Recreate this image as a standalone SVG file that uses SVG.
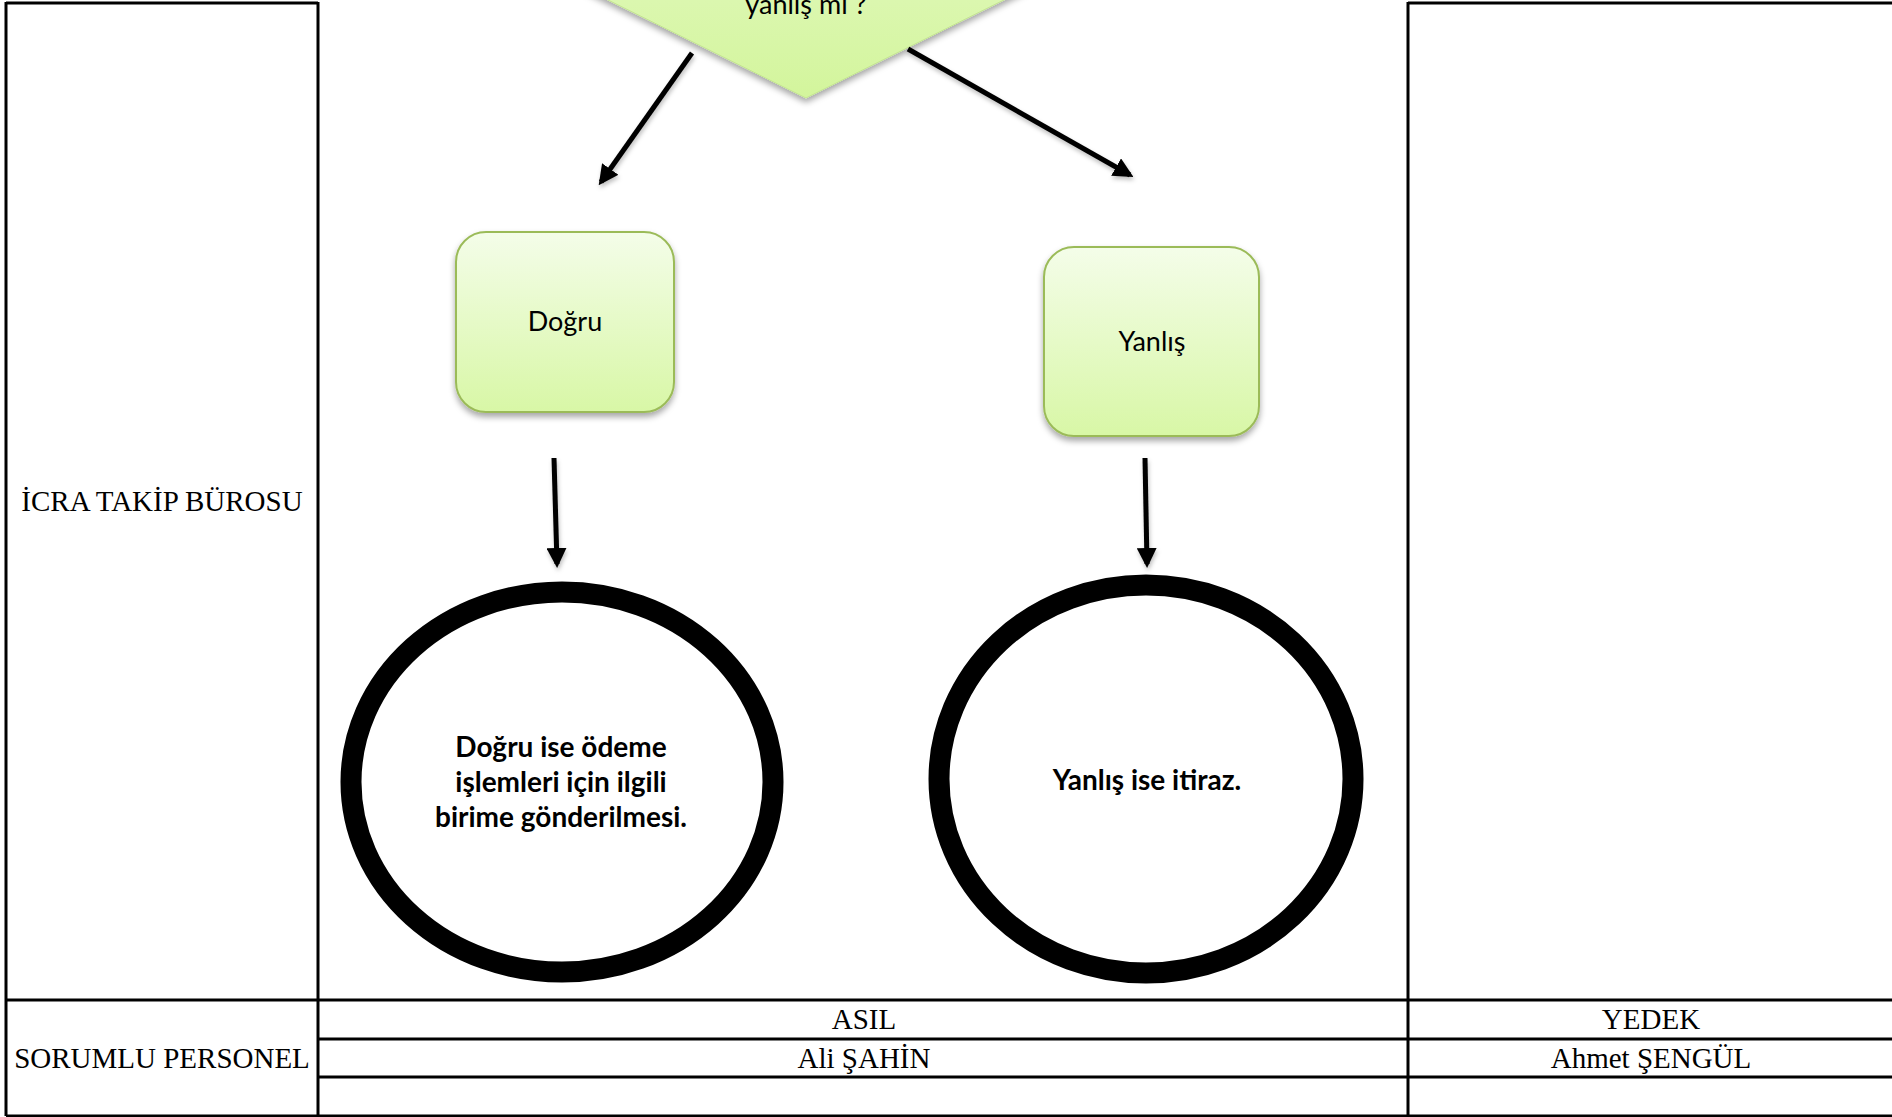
<svg xmlns="http://www.w3.org/2000/svg" width="1892" height="1117" viewBox="0 0 1892 1117">
<style>
.grid{stroke:#000;stroke-width:3;fill:none}
.tt{font-family:"Liberation Serif","Times New Roman",serif;font-size:29px;fill:#000;text-anchor:middle}
.box{fill:url(#gBox);stroke:#9bbb59;stroke-width:2}
.bl{font-family:Lato,"Open Sans",sans-serif;font-size:27px;fill:#000;text-anchor:middle}
.bt{font-family:Lato,"Open Sans",sans-serif;font-size:28px;font-weight:bold;fill:#000;text-anchor:middle}
.ring{fill:#fff;stroke:#000;stroke-width:21}
.conn{stroke:#000;stroke-width:5;fill:none;marker-end:url(#ah)}
</style>
<defs>
<linearGradient id="gBox" x1="0" y1="0" x2="0" y2="1">
<stop offset="0" stop-color="#f4fde9"/>
<stop offset="1" stop-color="#d8f7a6"/>
</linearGradient>
<linearGradient id="gDia" x1="0" y1="0" x2="0" y2="1">
<stop offset="0" stop-color="#f4fde9"/>
<stop offset="1" stop-color="#d3f59c"/>
</linearGradient>
<filter id="sh" x="-20%" y="-20%" width="140%" height="150%">
<feDropShadow dx="0" dy="4" stdDeviation="3" flood-color="#000" flood-opacity="0.35"/>
</filter>
<filter id="ash" x="-50%" y="-50%" width="200%" height="200%">
<feDropShadow dx="1" dy="3" stdDeviation="2" flood-color="#000" flood-opacity="0.25"/>
</filter>
<marker id="ah" markerWidth="4" markerHeight="4" refX="3.2" refY="2" orient="auto" markerUnits="strokeWidth">
<path d="M0,0 L4,2 L0,4 Z" fill="#000"/>
</marker>
</defs>

<g id="table">
<line class="grid" x1="6" y1="3" x2="318" y2="3"/>
<line class="grid" x1="1408" y1="3" x2="1892" y2="3"/>
<line class="grid" x1="6" y1="2" x2="6" y2="1116"/>
<line class="grid" x1="318" y1="2" x2="318" y2="1116"/>
<line class="grid" x1="1408" y1="2" x2="1408" y2="1116"/>
<line class="grid" x1="6" y1="1000" x2="1892" y2="1000"/>
<line class="grid" x1="318" y1="1039" x2="1892" y2="1039"/>
<line class="grid" x1="318" y1="1077" x2="1892" y2="1077"/>
<line class="grid" x1="6" y1="1116" x2="1892" y2="1116" stroke="#555"/>
<text class="tt" x="162" y="511">İCRA TAKİP BÜROSU</text>
<text class="tt" x="162" y="1068">SORUMLU PERSONEL</text>
<text class="tt" x="864" y="1029">ASIL</text>
<text class="tt" x="864" y="1068">Ali ŞAHİN</text>
<text class="tt" x="1651" y="1029">YEDEK</text>
<text class="tt" x="1651" y="1068">Ahmet ŞENGÜL</text>
</g>

<g id="decision">
<polygon points="806,-298 1206,-100 806,98 406,-100" fill="url(#gDia)" stroke="#c3e58f" stroke-width="1" filter="url(#sh)"/>
<text class="bl" x="806" y="14">yanlış mı ?</text>
</g>

<g id="dogru">
<rect class="box" x="456" y="232" width="218" height="180" rx="30" filter="url(#sh)"/>
<text class="bl" x="565" y="331">Doğru</text>
</g>

<g id="yanlis">
<rect class="box" x="1044" y="247" width="215" height="189" rx="30" filter="url(#sh)"/>
<text class="bl" x="1152" y="351">Yanlış</text>
</g>

<g id="end-dogru">
<ellipse class="ring" cx="562" cy="782" rx="211" ry="190"/>
<text class="bt" x="561" y="757">Doğru ise ödeme</text>
<text class="bt" x="561" y="792">işlemleri için ilgili</text>
<text class="bt" x="561" y="827">birime gönderilmesi.</text>
</g>

<g id="end-yanlis">
<ellipse class="ring" cx="1146" cy="779" rx="207" ry="194"/>
<text class="bt" x="1147" y="790">Yanlış ise itiraz.</text>
</g>

<g id="connectors" filter="url(#ash)">
<line class="conn" x1="692" y1="53" x2="601" y2="182"/>
<line class="conn" x1="908" y1="49" x2="1130" y2="175"/>
<line class="conn" x1="554" y1="458" x2="557" y2="564"/>
<line class="conn" x1="1145" y1="458" x2="1147" y2="564"/>
</g>
</svg>
